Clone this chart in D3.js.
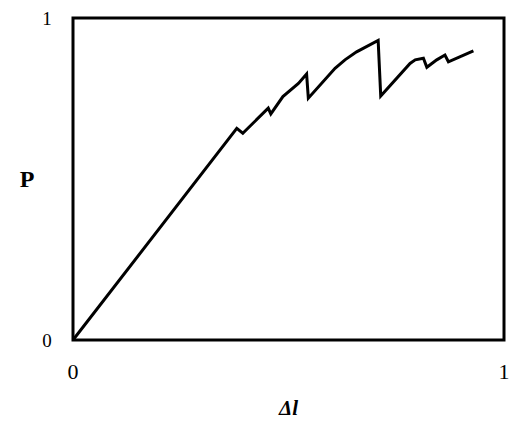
<!DOCTYPE html>
<html>
<head>
<meta charset="utf-8">
<script src="https://cdn.jsdelivr.net/npm/d3@7"></script>
<style>
  body { margin: 0; background: #fff; }
  text { font-family: "Liberation Serif", "Times New Roman", serif; fill: #000; }
</style>
</head>
<body>
<svg id="chart" width="521" height="437"></svg>
<script>
// curve, both axes 0..1
const dl = [0, 0.380, 0.394, 0.453, 0.459, 0.487, 0.523, 0.542, 0.546, 0.608, 0.631, 0.658, 0.708, 0.714, 0.782, 0.794, 0.813, 0.821, 0.844, 0.863, 0.871, 0.929];
const p = [0, 0.657, 0.642, 0.720, 0.702, 0.756, 0.797, 0.826, 0.751, 0.844, 0.870, 0.895, 0.930, 0.758, 0.859, 0.870, 0.875, 0.847, 0.870, 0.885, 0.864, 0.898];
const xTicks = [0, 1];
const yTicks = [0, 1];

const margin = { left: 73, right: 17, top: 18, bottom: 97 };
const width = 521 - margin.left - margin.right;
const height = 437 - margin.top - margin.bottom;

const svg = d3.select('#chart');
const chart = svg.append('g')
    .attr('transform', `translate(${margin.left}, ${margin.top})`);

const x = d3.scaleLinear().domain([0, 1]).range([0, width]);
const y = d3.scaleLinear().domain([0, 1]).range([height, 0]);

const points = dl.map((d, i) => [d, p[i]]);

chart.append('path')
    .datum(points)
    .attr('fill', 'none')
    .attr('stroke', '#000')
    .attr('stroke-width', 3)
    .attr('stroke-linejoin', 'miter')
    .attr('d', d3.line().x(d => x(d[0])).y(d => y(d[1])));

// frame
chart.append('rect')
    .attr('x', 0).attr('y', 0)
    .attr('width', width).attr('height', height)
    .attr('fill', 'none')
    .attr('stroke', '#000')
    .attr('stroke-width', 3);

// tick labels, no tick marks
chart.selectAll('.xt')
    .data(xTicks)
    .join('text')
    .attr('class', 'xt')
    .attr('x', d => x(d))
    .attr('y', height + 39)
    .attr('text-anchor', 'middle')
    .attr('font-size', 22)
    .text(d => d);

chart.selectAll('.yt')
    .data(yTicks)
    .join('text')
    .attr('class', 'yt')
    .attr('x', -26)
    .attr('y', d => y(d) + 7)
    .attr('text-anchor', 'middle')
    .attr('font-size', 19)
    .text(d => d);

// axis titles
svg.append('text')
    .attr('x', 27)
    .attr('y', 187)
    .attr('text-anchor', 'middle')
    .attr('font-size', 24)
    .attr('font-weight', 'bold')
    .text('P');

svg.append('text')
    .attr('x', margin.left + width / 2)
    .attr('y', 415)
    .attr('text-anchor', 'middle')
    .attr('font-size', 21)
    .attr('font-weight', 'bold')
    .attr('font-style', 'italic')
    .text('Δl');
</script>
</body>
</html>
